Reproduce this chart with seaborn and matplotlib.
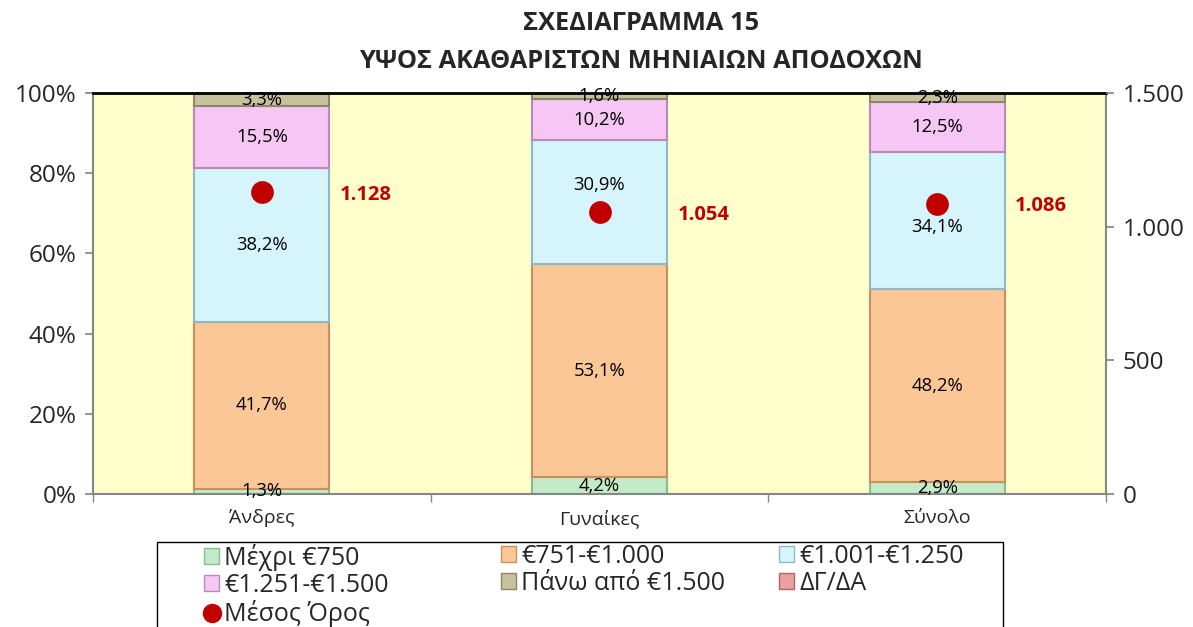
import matplotlib
matplotlib.use("Agg")
import matplotlib.pyplot as plt
import seaborn as sns
import pandas as pd
from matplotlib.patches import Patch, Rectangle
from matplotlib.lines import Line2D
from matplotlib.ticker import FuncFormatter, FixedLocator

# data
groups = ["Άνδρες", "Γυναίκες", "Σύνολο"]
bands = ["Μέχρι €750", "€751-€1.000", "€1.001-€1.250",
         "€1.251-€1.500", "Πάνω από €1.500", "ΔΓ/ΔΑ"]
upto_750 = [1.3, 4.2, 2.9]
from_751 = [41.7, 53.1, 48.2]
from_1001 = [38.2, 30.9, 34.1]
from_1251 = [15.5, 10.2, 12.5]
over_1500 = [3.3, 1.6, 2.3]
no_answer = [0.0, 0.0, 0.0]
mean_pay = [1128, 1054, 1086]

colors = ["#c4ebc8", "#fbc796", "#d6f4fb", "#f6c7f4", "#c8c19d", "#e8a0a0"]
edges = ["#8cb894", "#c98f5c", "#8fb8c4", "#b98ab8", "#8c8766", "#b06666"]
dot_red = "#c00000"

# the blue-band labels are moved off the mean dots, as in the original
label_nudge = {(2, 1): 4.3, (2, 2): -1.6}

sns.set_theme(style="white")
plt.rcParams["font.family"] = ["Open Sans", "DejaVu Sans"]

fig = plt.figure(figsize=(11.93, 6.27), dpi=100)
ax = fig.add_axes([93 / 1193, 1 - 494 / 627, (1106 - 93) / 1193, (494 - 93) / 627])
ax.set_facecolor("#ffffcc")

series = [upto_750, from_751, from_1001, from_1251, over_1500, no_answer]
bottom = [0.0, 0.0, 0.0]
for k, (name, vals, c, ec) in enumerate(zip(bands, series, colors, edges)):
    df = pd.DataFrame({"group": groups, "value": vals})
    sns.barplot(data=df, x="group", y="value", bottom=bottom, color=c,
                edgecolor=ec, linewidth=1.5, width=0.4, ax=ax, saturation=1)
    for i, v in enumerate(vals):
        if v > 0:
            yy = bottom[i] + v / 2 + label_nudge.get((k, i), 0)
            ax.text(i, yy, f"{v:.1f}%".replace(".", ","),
                    ha="center", va="center", fontsize=13.3, color="black")
    bottom = [b + v for b, v in zip(bottom, vals)]

ax.set_xlim(-0.5, 2.5)
ax.set_ylim(0, 100)
ax.set_xlabel("")
ax.set_ylabel("")
ax.set_yticks([0, 20, 40, 60, 80, 100])
ax.yaxis.set_major_formatter(FuncFormatter(lambda v, p: f"{v:.0f}%"))
ax.tick_params(axis="y", left=True, length=6, color="#868686", labelsize=17.5, pad=6)
ax.tick_params(axis="x", bottom=False, labelsize=14, pad=5)
ax.xaxis.set_minor_locator(FixedLocator([-0.5, 0.5, 1.5, 2.5]))
ax.tick_params(axis="x", which="minor", bottom=True, length=6, color="#868686")
for s in ["left", "bottom", "right"]:
    ax.spines[s].set_color("#868686")
    ax.spines[s].set_linewidth(1.5)
ax.spines["top"].set_color("black")
ax.spines["top"].set_linewidth(2)

ax2 = ax.twinx()
mdf = pd.DataFrame({"group": [0, 1, 2], "mean": mean_pay})
sns.scatterplot(data=mdf, x="group", y="mean", s=230, color=dot_red,
                edgecolor=dot_red, ax=ax2, zorder=5, legend=False)
for i, m in enumerate(mean_pay):
    ax2.annotate(f"{m:,}".replace(",", "."), (i, m), xytext=(56, -2),
                 textcoords="offset points", ha="left", va="center",
                 fontsize=14.5, fontweight="bold", color=dot_red)
ax2.set_ylim(0, 1500)
ax2.set_xlim(-0.5, 2.5)
ax2.set_yticks([0, 500, 1000, 1500])
ax2.yaxis.set_major_formatter(FuncFormatter(lambda v, p: f"{int(v):,}".replace(",", ".")))
ax2.tick_params(axis="y", right=True, length=6, color="#868686", labelsize=17.5, pad=6)
ax2.set_ylabel("")
ax2.set_xlabel("")
for s in ax2.spines.values():
    s.set_visible(False)

fig.text(0.537, 0.962, "ΣΧΕΔΙΑΓΡΑΜΜΑ 15", ha="center", va="center",
         fontsize=18.3, fontweight="bold")
fig.text(0.537, 0.902, "ΥΨΟΣ ΑΚΑΘΑΡΙΣΤΩΝ ΜΗΝΙΑΙΩΝ ΑΠΟΔΟΧΩΝ", ha="center",
         va="center", fontsize=18.3, fontweight="bold")

# legend frame, running off the bottom of the figure like the original
fig.patches.append(Rectangle((157 / 1193, -0.05), (1003 - 157) / 1193,
                             0.05 + 1 - 542 / 627, transform=fig.transFigure,
                             fill=False, edgecolor="black", linewidth=1))

# legend in three fixed-width columns, like Excel lays it out
patches = [Patch(facecolor=c, edgecolor=ec, label=b)
           for b, c, ec in zip(bands, colors, edges)]
dot = Line2D([], [], marker="o", linestyle="", markersize=13,
             color=dot_red, label="Μέσος Όρος")
columns = [[patches[0], patches[3], dot], [patches[1], patches[4]],
           [patches[2], patches[5]]]
col_x = [204, 501, 779]
for handles, x in zip(columns, col_x):
    fig.legend(handles=handles, loc="upper left",
               bbox_to_anchor=(x / 1193, 1 - 544 / 627), ncol=1,
               fontsize=18, frameon=False,
               handlelength=0.6, handleheight=0.6, handletextpad=0.2,
               labelspacing=0.08, borderpad=0.0, borderaxespad=0)

fig.savefig("out.png", dpi=100)
